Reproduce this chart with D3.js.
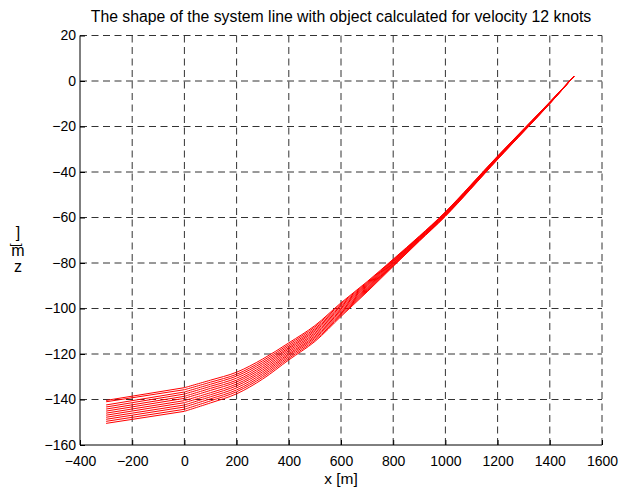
<!DOCTYPE html>
<html><head><meta charset="utf-8">
<script src="https://cdn.jsdelivr.net/npm/d3@7"></script>
<style>
body{margin:0;background:#fff}
svg{display:block}
text{font-family:Arial,"Liberation Sans",Helvetica,sans-serif;fill:#000}
</style>
</head><body>
<svg id="chart" width="620" height="488"></svg>
<script>
const titleText = "The shape of the system line with object calculated for velocity 12 knots";
const xLabel = "x [m]";
const xTicks = [-400, -200, 0, 200, 400, 600, 800, 1000, 1200, 1400, 1600];
const yTicks = [-160, -140, -120, -100, -80, -60, -40, -20, 0, 20];

// horizontal positions (m) where each of the 12 curves was read
const objectX = [-300, 0];
const cableX = [0, 100, 200, 300, 400, 500, 600, 700, 800, 900, 1000, 1200, 1400, 1492];

// depth (m) of each of the 12 curves at every station
const depthAtM300 = [-140.4, -141.0, -142.4, -143.3, -144.2, -145.1, -146.0, -146.9, -147.8, -148.7, -149.6, -150.5];
const depthAt0    = [-134.8, -135.7, -136.7, -137.6, -138.6, -139.5, -140.5, -141.4, -142.4, -143.3, -144.3, -145.2];
const depthAt100  = [-131.5, -132.4, -133.3, -134.2, -135.1, -136.0, -137.0, -137.9, -138.8, -139.7, -140.6, -141.5];
const depthAt200  = [-128.0, -128.9, -129.7, -130.6, -131.5, -132.3, -133.2, -134.0, -134.9, -135.8, -136.6, -137.5];
const depthAt300  = [-122.2, -123.0, -123.8, -124.6, -125.4, -126.2, -127.0, -127.8, -128.6, -129.4, -130.2, -131.0];
const depthAt400  = [-115.1, -115.8, -116.5, -117.2, -117.8, -118.5, -119.2, -119.9, -120.5, -121.2, -121.9, -122.6];
const depthAt500  = [-107.5, -108.1, -108.8, -109.4, -110.0, -110.7, -111.3, -112.0, -112.6, -113.2, -113.9, -114.5];
const depthAt600  = [-97.5, -98.0, -98.6, -99.1, -99.7, -100.2, -100.8, -101.3, -101.9, -102.4, -103.0, -103.5];
const depthAt700  = [-88.2, -88.6, -89.0, -89.4, -89.8, -90.2, -90.7, -91.1, -91.5, -91.9, -92.3, -92.7];
const depthAt800  = [-78.3, -78.6, -78.8, -79.1, -79.4, -79.7, -80.0, -80.3, -80.6, -80.9, -81.2, -81.5];
const depthAt900  = [-68.2, -68.4, -68.6, -68.8, -69.0, -69.2, -69.4, -69.6, -69.8, -70.0, -70.2, -70.4];
const depthAt1000 = [-57.5, -57.7, -57.9, -58.0, -58.2, -58.4, -58.6, -58.8, -59.0, -59.1, -59.3, -59.5];
const depthAt1200 = [-33.0, -33.1, -33.3, -33.4, -33.5, -33.7, -33.8, -34.0, -34.1, -34.2, -34.4, -34.5];
const depthAt1400 = [-9.2, -9.3, -9.3, -9.4, -9.5, -9.6, -9.6, -9.7, -9.8, -9.9, -9.9, -10.0];
const depthAtEnd  = [2, 2, 2, 2, 2, 2, 2, 2, 2, 2, 2, 2];

const objectDepths = [depthAtM300, depthAt0];
const cableDepths = [depthAt0, depthAt100, depthAt200, depthAt300, depthAt400, depthAt500, depthAt600,
  depthAt700, depthAt800, depthAt900, depthAt1000, depthAt1200, depthAt1400, depthAtEnd];

const svg = d3.select("#chart");
const L = 80, R = 602, T = 35.5, B = 445;
const x = d3.scaleLinear().domain([-400, 1600]).range([L, R]);
const y = d3.scaleLinear().domain([-160, 20]).range([B, T]);
const fmt = d => String(d).replace("-", "\u2212");

// grid
const grid = svg.append("g").attr("stroke", "#333").attr("stroke-width", 1)
  .attr("stroke-dasharray", "7,4.5").attr("fill", "none");
xTicks.filter(v => v !== -400).forEach(v => {
  grid.append("line").attr("x1", x(v)).attr("x2", x(v)).attr("y1", B).attr("y2", T);
});
yTicks.filter(v => v !== -160).forEach(v => {
  grid.append("line").attr("x1", L).attr("x2", R).attr("y1", y(v)).attr("y2", y(v));
});

// curves
const nLines = depthAt0.length;
const straight = d3.line().x(d => x(d[0])).y(d => y(d[1]));
const smooth = d3.line().x(d => x(d[0])).y(d => y(d[1])).curve(d3.curveCatmullRom.alpha(0.5));
const curves = svg.append("g").attr("fill", "none").attr("stroke", "#ff0000").attr("stroke-width", 1);
for (let i = 0; i < nLines; i++) {
  curves.append("path").attr("d", straight(objectX.map((xv, k) => [xv, objectDepths[k][i]])));
  curves.append("path").attr("d", smooth(cableX.map((xv, k) => [xv, cableDepths[k][i]])));
}

// axes
const xAxis = d3.axisBottom(x).tickValues(xTicks).tickSizeInner(-5).tickSizeOuter(0).tickPadding(11).tickFormat(fmt);
const yAxis = d3.axisLeft(y).tickValues(yTicks).tickSizeInner(-5).tickSizeOuter(0).tickPadding(4).tickFormat(fmt);
const gx = svg.append("g").attr("transform", `translate(0,${B})`).call(xAxis);
const gy = svg.append("g").attr("transform", `translate(${L},0)`).call(yAxis);
[gx, gy].forEach(g => {
  g.selectAll("path,line").attr("stroke", "#000").attr("stroke-width", 1);
  g.selectAll("text").attr("font-size", 14).attr("font-family", "Arial, 'Liberation Sans', sans-serif").attr("fill", "#000");
});
gx.select(".domain").attr("d", `M${L},0H${R}`);
gy.select(".domain").attr("d", `M0,${B}V${T}`);

// title
svg.append("text").attr("x", 341).attr("y", 22).attr("text-anchor", "middle")
  .attr("font-size", 15.8).text(titleText);

// x label
svg.append("text").attr("x", 341).attr("y", 484).attr("text-anchor", "middle")
  .attr("font-size", 15.5).text(xLabel);

// y label (glyphs stacked as in the original rendering)
const yl = svg.append("g").attr("font-size", 16).attr("text-anchor", "middle");
yl.append("text").attr("x", 18).attr("y", 238).text("]");
yl.append("text").attr("x", 18).attr("y", 256).text("m");
yl.append("text").attr("transform", "translate(19,245) rotate(-90)").attr("font-size", 12).text("[");
yl.append("text").attr("x", 18).attr("y", 272).text("z");
</script>
</body></html>
